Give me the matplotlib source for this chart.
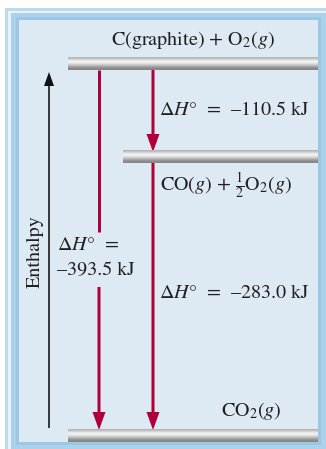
import numpy as np
import matplotlib.pyplot as plt
from matplotlib.patches import Rectangle

plt.rcParams["mathtext.fontset"] = "stix"
plt.rcParams["font.family"] = ["STIXGeneral", "DejaVu Serif"]

# energy levels (diagram position, left start of bar) and their labels
LEVEL_LABELS = [r"C(graphite) + O$_2$($g$)",
                r"CO($g$) + $\frac{1}{2}$O$_2$($g$)",
                r"CO$_2$($g$)"]
LEVEL_Y = [64, 157, 436]
LEVEL_X0 = [68, 123, 68]
LEVEL_X1 = 318

# enthalpy changes
DH_STEP1 = -110.5
DH_STEP2 = -283.0
DH_TOTAL = -393.5

RED = "#b0003a"
INNER = "#dde9f3"
TXT = "#231f20"
FS = 14.5

fig = plt.figure(figsize=(3.26, 4.49), dpi=100)
ax = fig.add_axes([0, 0, 1, 1])
ax.set_xlim(0, 326)
ax.set_ylim(449, 0)
ax.axis("off")

# framed panel
ax.add_patch(Rectangle((5, 8), 330, 450, fc="#bcdaee", ec="none"))
ax.add_patch(Rectangle((8, 11), 330, 450, fc="#eaf3fa", ec="none"))
ax.add_patch(Rectangle((11, 13), 330, 450, fc="#acd1ea", ec="none"))
ax.add_patch(Rectangle((16, 17), 305, 428, fc="#9ac7e4", ec="none"))
ax.add_patch(Rectangle((19, 20), 299, 422, fc=INNER, ec="none"))

# metallic bars
grad = np.array([0.70, 0.80, 0.93, 0.96, 0.88, 0.78, 0.66, 0.56, 0.52]).reshape(-1, 1)
for y, x0 in zip(LEVEL_Y, LEVEL_X0):
    ax.imshow(grad, cmap="gray", vmin=0, vmax=1, aspect="auto",
              extent=(x0, LEVEL_X1, y + 6.5, y - 6.5), zorder=3,
              interpolation="bicubic")

# level labels
ax.text(193, 40, LEVEL_LABELS[0], fontsize=FS, ha="center", va="center", color=TXT)
ax.text(160, 186, LEVEL_LABELS[1], fontsize=FS, ha="left", va="center", color=TXT)
ax.text(251, 411, LEVEL_LABELS[2], fontsize=FS, ha="center", va="center", color=TXT)


def red_arrow(x, y0, y1):
    ax.arrow(x, y0, 0, y1 - y0, width=3, head_width=13, head_length=18,
             length_includes_head=True, fc=RED, ec="none", zorder=2)


x_tot, x_step = 99, 153
ax.plot([x_tot, x_tot], [LEVEL_Y[0] + 6, 232], color=RED, lw=3 * 0.72,
        solid_capstyle="butt", zorder=2)
red_arrow(x_tot, 287, LEVEL_Y[2] - 6)
red_arrow(x_step, LEVEL_Y[0] + 6, LEVEL_Y[1] - 5)
red_arrow(x_step, LEVEL_Y[1] + 5, LEVEL_Y[2] - 6)

# enthalpy axis
ax.arrow(49, 428, 0, 72 - 428, width=1.6, head_width=10, head_length=14,
         length_includes_head=True, fc="#111111", ec="none", zorder=2)
ax.text(35, 252, "Enthalpy", rotation=90, fontsize=FS, ha="center", va="center", color=TXT)


def dh(v):
    return r"$\Delta H\degree$  =  " + f"\u2013{abs(v):.1f} kJ"


ax.text(159, 110, dh(DH_STEP1), fontsize=FS, ha="left", va="center", color=TXT)
ax.text(159, 293, dh(DH_STEP2), fontsize=FS, ha="left", va="center", color=TXT)
ax.text(57, 245, r"$\Delta H\degree$  =", fontsize=FS, ha="left", va="center", color=TXT)
ax.text(57, 270, f"\u2013{abs(DH_TOTAL):.1f} kJ", fontsize=FS, ha="left", va="center", color=TXT)

fig.savefig("out.png", dpi=100)
